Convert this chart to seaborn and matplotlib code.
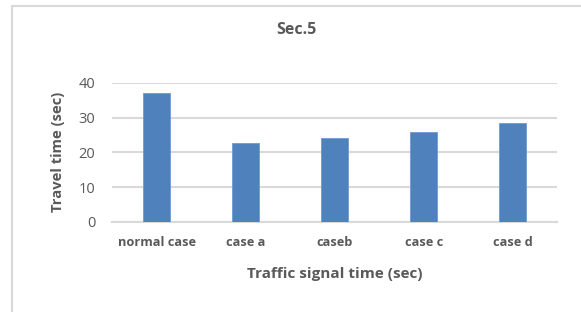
import pandas as pd
import seaborn as sns
import matplotlib.pyplot as plt
from matplotlib.patches import Rectangle

# Data
cases = ['normal case', 'case a', 'caseb', 'case c', 'case d']
travel_time = [37.2, 22.6, 24.0, 25.9, 28.5]

df = pd.DataFrame({'case': cases, 'time': travel_time})

sns.set_theme(style='white')
plt.rcParams['font.family'] = ['Open Sans', 'DejaVu Sans']

text_col = '#595959'
grid_col = '#D9D9D9'

fig = plt.figure(figsize=(5.81, 3.12), dpi=100)
ax = fig.add_axes([0.193, 0.2894, 0.766, 0.4446])

sns.barplot(data=df, x='case', y='time', color='#4F81BD', width=0.31,
            saturation=1, edgecolor='#6F9BD0', linewidth=0.6, ax=ax, zorder=3)

ax.set_ylim(0, 40)
ax.set_yticks([0, 10, 20, 30, 40])
ax.set_xlim(-0.5, 4.5)
ax.yaxis.grid(True, color=grid_col, linewidth=1.5, zorder=0)
for s in ['top', 'right', 'left']:
    ax.spines[s].set_visible(False)
ax.spines['bottom'].set_color(grid_col)
ax.spines['bottom'].set_linewidth(1.5)
ax.spines['bottom'].set_zorder(1)

ax.tick_params(axis='y', length=0, pad=12, labelsize=10.5, labelcolor=text_col)
ax.tick_params(axis='x', length=0, pad=10, labelsize=9.2, labelcolor=text_col)
for lbl in ax.get_xticklabels():
    lbl.set_fontweight('bold')

ax.set_xlabel('Traffic signal time (sec)', fontsize=11, fontweight='bold',
              color=text_col, labelpad=13)
ax.set_ylabel('Travel time (sec)', fontsize=10.6, fontweight='bold',
              color=text_col, labelpad=10)
fig.text(0.51, 0.905, 'Sec.5', ha='center', va='center', fontsize=11.5,
         fontweight='bold', color=text_col)

# chart area frame
fig.patches.append(Rectangle((11.5 / 581, -0.1), 1.2, 1.1 - 6.5 / 312,
                             transform=fig.transFigure, fill=False,
                             edgecolor=grid_col, linewidth=1.5))

plt.savefig('out.png', dpi=100)
